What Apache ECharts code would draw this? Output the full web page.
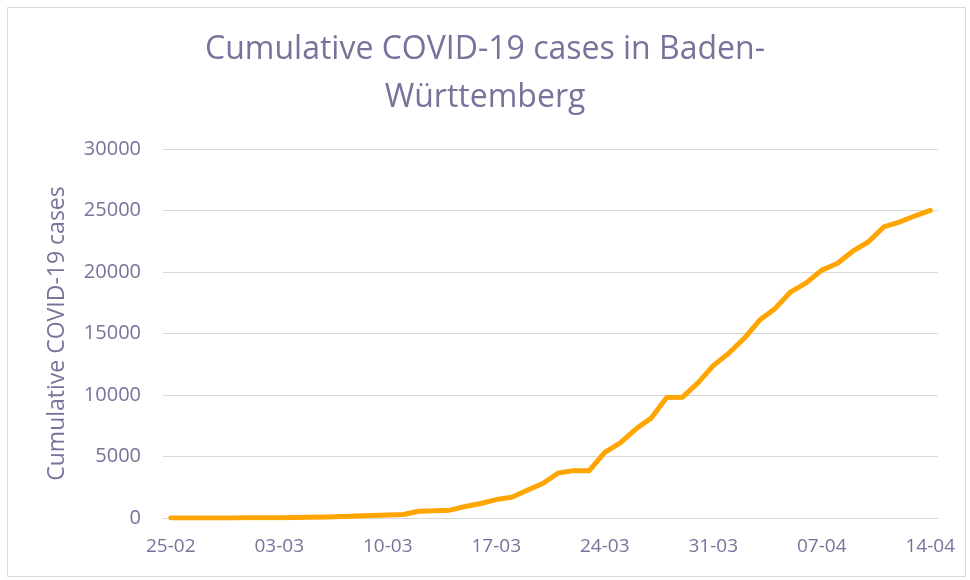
<!DOCTYPE html>
<html>
<head>
<meta charset="utf-8">
<script src="https://cdn.jsdelivr.net/npm/echarts@6/dist/echarts.min.js"></script>
<style>
html,body{margin:0;padding:0;background:#fff;}
#chart{width:970px;height:580px;}
</style>
</head>
<body>
<div id="chart"></div>
<script>
const dates = [
  "25-02","26-02","27-02","28-02","29-02","01-03","02-03","03-03","04-03","05-03",
  "06-03","07-03","08-03","09-03","10-03","11-03","12-03","13-03","14-03","15-03",
  "16-03","17-03","18-03","19-03","20-03","21-03","22-03","23-03","24-03","25-03",
  "26-03","27-03","28-03","29-03","30-03","31-03","01-04","02-04","03-04","04-04",
  "05-04","06-04","07-04","08-04","09-04","10-04","11-04","12-04","13-04","14-04"
];
const cases = [
  1, 3, 4, 6, 10, 14, 15, 28, 50, 64,
  91, 116, 159, 199, 250, 290, 550, 580, 640, 930,
  1180, 1500, 1680, 2250, 2800, 3660, 3850, 3850, 5340, 6100,
  7230, 8120, 9800, 9810, 10960, 12390, 13390, 14610, 16090, 17040,
  18390, 19120, 20150, 20690, 21690, 22440, 23660, 24060, 24550, 25010
];
const yTicks = [0, 5000, 10000, 15000, 20000, 25000, 30000];
const titleText = "Cumulative COVID-19 cases in Baden-\nWürttemberg";
const yName = "Cumulative COVID-19 cases";

const textColor = "#77739a";
const font = "Open Sans";
const chart = echarts.init(document.getElementById('chart'), null, {renderer: 'canvas'});
chart.setOption({
  animation: false,
  backgroundColor: '#ffffff',
  graphic: [{
    type: 'rect',
    shape: {x: 7.5, y: 7.5, width: 958, height: 569},
    style: {fill: 'none', stroke: '#d9d9d9', lineWidth: 1},
    silent: true
  }],
  title: {
    text: titleText,
    left: 'center',
    top: 21,
    textStyle: {
      fontFamily: font, fontSize: 32, fontWeight: 'normal',
      color: textColor, lineHeight: 48
    }
  },
  grid: {left: 163, right: 32, top: 149, height: 369, containLabel: false},
  xAxis: {
    type: 'category',
    data: dates,
    boundaryGap: true,
    axisLine: {show: true, lineStyle: {color: '#d9d9d9', width: 1}},
    axisTick: {show: false},
    axisLabel: {
      interval: 6, color: textColor, fontFamily: font, fontSize: 19, margin: 19
    },
    splitLine: {show: false}
  },
  yAxis: {
    type: 'value',
    min: yTicks[0],
    max: yTicks[yTicks.length - 1],
    interval: 5000,
    name: yName,
    nameLocation: 'middle',
    nameGap: 94,
    nameTextStyle: {color: textColor, fontFamily: font, fontSize: 23},
    axisLine: {show: false},
    axisTick: {show: false},
    axisLabel: {
      color: textColor, fontFamily: font, fontSize: 20, margin: 22,
      formatter: function (v) { return String(v); }
    },
    splitLine: {lineStyle: {color: '#d9d9d9', width: 1}}
  },
  series: [{
    type: 'line',
    data: cases,
    showSymbol: false,
    symbol: 'none',
    lineStyle: {color: '#ffa500', width: 5, cap: 'round', join: 'round'},
    itemStyle: {color: '#ffa500'}
  }]
});
</script>
</body>
</html>
